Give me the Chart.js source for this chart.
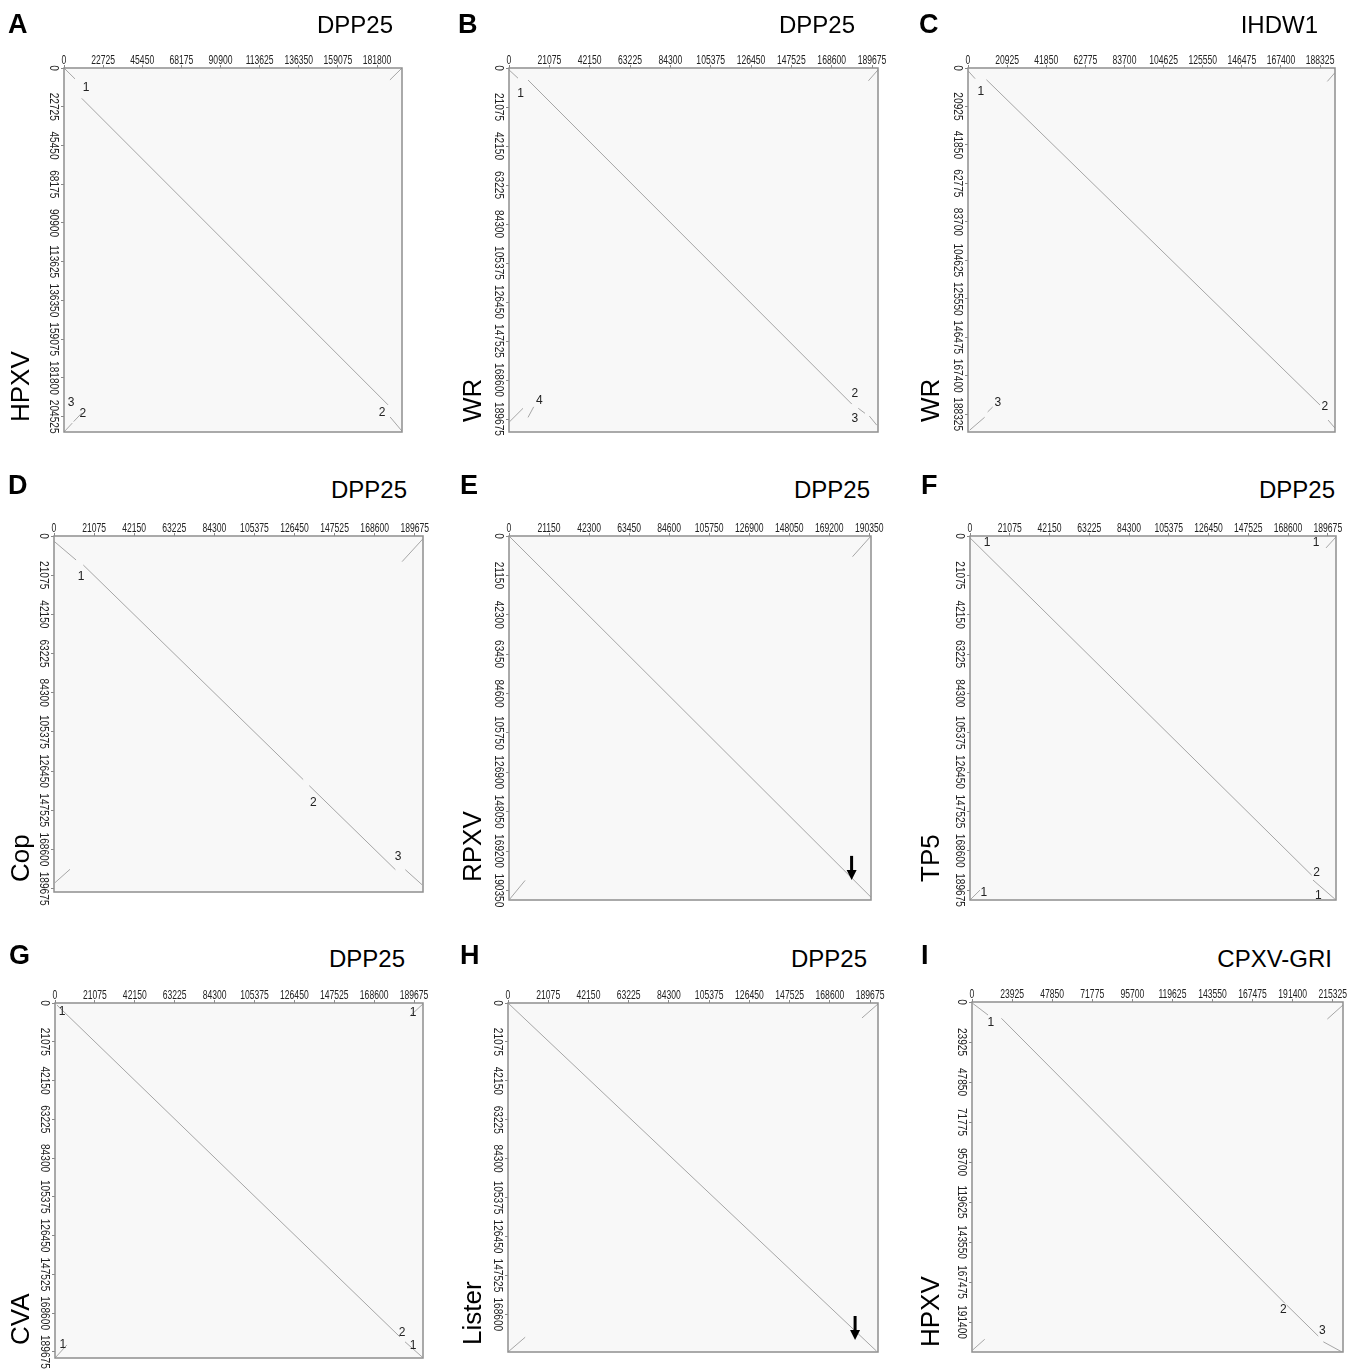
<!DOCTYPE html>
<html lang="en">
<head>
  <meta charset="UTF-8">
  <title>Dot plots</title>
  <script src="https://cdn.jsdelivr.net/npm/chart.js"></script>
  <style>
    body { margin: 0; background: #ffffff; font-family: "Liberation Sans", Arial, sans-serif; }
    #page { position: relative; width: 1361px; height: 1372px; overflow: hidden; background: #fff; }
    #page canvas { position: absolute; }
    .letter { position: absolute; font-weight: bold; font-size: 27px; line-height: 27px; color: #000; }
    .title { position: absolute; font-size: 24px; line-height: 24px; color: #000; text-align: right; white-space: nowrap; }
    .ylab { position: absolute; font-size: 26px; line-height: 26px; color: #000; white-space: nowrap;
            transform-origin: 0 0; transform: rotate(-90deg); }
  </style>
</head>
<body>
<div id="page"></div>
<script>
  // ---- tick labels ----
  const ticks22725 = [0, 22725, 45450, 68175, 90900, 113625, 136350, 159075, 181800];
  const ticks22725y = [0, 22725, 45450, 68175, 90900, 113625, 136350, 159075, 181800, 204525];
  const ticks21075 = [0, 21075, 42150, 63225, 84300, 105375, 126450, 147525, 168600, 189675];
  const ticks21075short = [0, 21075, 42150, 63225, 84300, 105375, 126450, 147525, 168600];
  const ticks20925 = [0, 20925, 41850, 62775, 83700, 104625, 125550, 146475, 167400, 188325];
  const ticks21150 = [0, 21150, 42300, 63450, 84600, 105750, 126900, 148050, 169200, 190350];
  const ticks23925 = [0, 23925, 47850, 71775, 95700, 119625, 143550, 167475, 191400, 215325];
  const ticks23925short = [0, 23925, 47850, 71775, 95700, 119625, 143550, 167475, 191400];

  // ---- panel names ----
  const panelLetters = ['A', 'B', 'C', 'D', 'E', 'F', 'G', 'H', 'I'];
  const xGenomes = ['DPP25', 'DPP25', 'IHDW1', 'DPP25', 'DPP25', 'DPP25', 'DPP25', 'DPP25', 'CPXV-GRI'];
  const yGenomes = ['HPXV', 'WR', 'WR', 'Cop', 'RPXV', 'TP5', 'CVA', 'Lister', 'HPXV'];

  // ---- axis lengths (bp) ----
  const xLengths = [196300, 192800, 196300, 194000, 191250, 194000, 194400, 193800, 221450];
  const yLengths = [213500, 196700, 198000, 191500, 195500, 195000, 193000, 189000, 209300];

  // ---- match segments [x1, y1, x2, y2] ----
  const segA = [[0, 0, 6400, 6400], [10300, 17800, 188200, 197600], [189400, 204700, 196300, 213000],
                [196300, 0, 189300, 7000], [0, 213500, 4800, 208300], [5600, 207400, 10300, 202400]];
  const segB = [[0, 1000, 4700, 5500], [9940, 6490, 179100, 181600], [182500, 183900, 186000, 186600],
                [188300, 188100, 192150, 193000], [192800, 1000, 187800, 6900],
                [260, 191200, 7320, 183900], [9940, 188800, 12900, 183100]];
  const segC = [[0, 1500, 3800, 5800], [9850, 6370, 188300, 183350], [192600, 191500, 196300, 195900],
                [196300, 2500, 192200, 7300], [900, 197000, 8900, 190000], [10500, 187100, 13200, 184400]];
  const segD = [[200, 3000, 11600, 12900], [15400, 15600, 131000, 131000], [134200, 134300, 179500, 179500],
                [184700, 179500, 193500, 187600], [194000, 1500, 183000, 13800], [500, 186500, 8400, 179300]];
  const segE = [[0, 0, 191250, 194000], [191250, 0, 181500, 11100], [0, 195500, 8500, 185000]];
  const segF = [[0, 1000, 181100, 181700], [181800, 184300, 193400, 194500],
                [194000, 500, 188700, 6400], [0, 195000, 5300, 189700]];
  const segG = [[1000, 1100, 182200, 181500], [184900, 184200, 193900, 192400],
                [194400, 500, 187500, 7100], [0, 193000, 6300, 185900]];
  const segH = [[0, 0, 193000, 188500], [193800, 500, 185400, 8100], [0, 189000, 9000, 181000]];
  const segI = [[400, 800, 9560, 7780], [17560, 9750, 186800, 180200], [187800, 181200, 206700, 199800],
                [209700, 203200, 220700, 209200], [221450, 1800, 212100, 10200], [400, 208100, 7600, 201700]];

  // ---- region numbers [x, y, text] ----
  const numA = [[12800, 11300, '1'], [184700, 202300, '2'], [4100, 196100, '3'], [10900, 202500, '2']];
  const numB = [[6100, 14000, '1'], [180700, 176200, '2'], [180700, 189700, '3'], [15800, 180000, '4']];
  const numC = [[6800, 12900, '1'], [190800, 184400, '2'], [15900, 182300, '3']];
  const numD = [[14200, 22000, '1'], [136300, 143500, '2'], [180900, 172600, '3']];
  const numE = [];
  const numF = [[9000, 3750, '1'], [183400, 3750, '1'], [7400, 191300, '1'], [184600, 192900, '1'], [183700, 180400, '2']];
  const numG = [[3700, 4900, '1'], [189100, 5400, '1'], [4200, 185900, '1'], [189100, 186400, '1'], [183300, 179300, '2']];
  const numH = [];
  const numI = [[11200, 12600, '1'], [185800, 184200, '2'], [209100, 196800, '3']];

  // ---- arrows (tip position) ----
  const arrowE = [[181000, 184700]];
  const arrowH = [[181800, 182500]];

  const xTickSets = [ticks22725, ticks21075, ticks20925, ticks21075, ticks21150, ticks21075, ticks21075, ticks21075, ticks23925];
  const yTickSets = [ticks22725y, ticks21075, ticks20925, ticks21075, ticks21150, ticks21075, ticks21075, ticks21075short, ticks23925short];
  const segSets = [segA, segB, segC, segD, segE, segF, segG, segH, segI];
  const numSets = [numA, numB, numC, numD, numE, numF, numG, numH, numI];
  const arrowSets = [[], [], [], [], arrowE, [], [], arrowH, []];

  // ---- layout (pixels) ----
  const boxes = [
    { L: 64, T: 68, R: 402, B: 432 }, { L: 509, T: 68, R: 878, B: 432 }, { L: 968, T: 68, R: 1335, B: 432 },
    { L: 54, T: 536, R: 423, B: 892 }, { L: 509, T: 536, R: 871, B: 900 }, { L: 970, T: 536, R: 1336, B: 900 },
    { L: 55, T: 1003, R: 423, B: 1358 }, { L: 508, T: 1003, R: 878, B: 1352 }, { L: 972, T: 1002, R: 1343, B: 1352 }
  ];
  const letterPos = [[8, 34], [458, 34], [919, 34], [8, 495], [460, 495], [921, 495], [9, 965], [460, 965], [921, 965]];
  const titlePos = [[393, 33], [855, 33], [1318, 33], [407, 498], [870, 498], [1335, 498], [405, 967], [867, 967], [1332, 967]];
  const ylabPos = [[7, 422], [459, 422], [917, 422], [7, 882], [459, 882], [917, 882], [7, 1345], [459, 1345], [917, 1347]];

  const PADL = 40, PADT = 30, PADR = 18, PADB = 18;
  const TICK_FONT = '13px "Liberation Sans", Arial, sans-serif';
  const page = document.getElementById('page');

  function addText(cls, text, style) {
    const d = document.createElement('div');
    d.className = cls;
    d.textContent = text;
    Object.assign(d.style, style);
    page.appendChild(d);
  }

  function makePanel(i) {
    const b = boxes[i];
    const xTicks = xTickSets[i], yTicks = yTickSets[i];
    const canvas = document.createElement('canvas');
    canvas.width = b.R - b.L + PADL + PADR;
    canvas.height = b.B - b.T + PADT + PADB;
    canvas.style.left = (b.L - PADL) + 'px';
    canvas.style.top = (b.T - PADT) + 'px';
    page.appendChild(canvas);

    const panelPlugin = {
      id: 'panel' + i,
      beforeDraw(chart) {
        const a = chart.chartArea, ctx = chart.ctx;
        ctx.save();
        ctx.fillStyle = '#f8f8f8';
        ctx.fillRect(a.left, a.top, a.right - a.left, a.bottom - a.top);
        ctx.restore();
      },
      afterDraw(chart) {
        const a = chart.chartArea, ctx = chart.ctx;
        const xs = chart.scales.x, ys = chart.scales.y;
        ctx.save();
        ctx.strokeStyle = '#8f8f8f';
        ctx.lineWidth = 1.5;
        ctx.strokeRect(a.left, a.top, a.right - a.left, a.bottom - a.top);

        // tick labels: narrow digits, drawn at the scales' tick pixels
        ctx.fillStyle = '#222';
        ctx.font = TICK_FONT;
        ctx.textAlign = 'center';
        xs.ticks.forEach(t => {
          const px = xs.getPixelForValue(t.value);
          ctx.save();
          ctx.translate(px, a.top - 4);
          ctx.scale(0.66, 1);
          ctx.textBaseline = 'alphabetic';
          ctx.fillText(String(t.value), 0, 0);
          ctx.restore();
        });
        ys.ticks.forEach(t => {
          const py = ys.getPixelForValue(t.value);
          ctx.save();
          ctx.translate(a.left, py);
          ctx.rotate(Math.PI / 2);
          ctx.scale(0.78, 1);
          ctx.textBaseline = 'alphabetic';
          ctx.fillText(String(t.value), 0, 14);
          ctx.restore();
        });

        // region numbers
        ctx.font = '12px "Liberation Sans", Arial, sans-serif';
        ctx.fillStyle = '#222';
        ctx.textBaseline = 'middle';
        numSets[i].forEach(n => {
          ctx.fillText(n[2], xs.getPixelForValue(n[0]), ys.getPixelForValue(n[1]));
        });

        // arrows
        ctx.fillStyle = '#000';
        arrowSets[i].forEach(ar => {
          const px = xs.getPixelForValue(ar[0]), py = ys.getPixelForValue(ar[1]);
          ctx.fillRect(px - 1.5, py - 24, 3, 16);
          ctx.beginPath();
          ctx.moveTo(px - 5, py - 10);
          ctx.lineTo(px + 5, py - 10);
          ctx.lineTo(px, py);
          ctx.closePath();
          ctx.fill();
        });
        ctx.restore();
      }
    };

    new Chart(canvas, {
      type: 'scatter',
      data: {
        datasets: segSets[i].map(s => ({
          data: [{ x: s[0], y: s[1] }, { x: s[2], y: s[3] }],
          showLine: true,
          borderColor: '#a6a6a6',
          borderWidth: 1,
          pointRadius: 0
        }))
      },
      options: {
        responsive: false,
        animation: false,
        events: [],
        layout: { padding: { left: 0, top: 0, right: PADR, bottom: PADB } },
        plugins: { legend: { display: false }, tooltip: { enabled: false } },
        scales: {
          x: {
            type: 'linear', position: 'top', min: 0, max: xLengths[i],
            afterBuildTicks: s => { s.ticks = xTicks.map(v => ({ value: v })); },
            afterFit: s => { s.height = PADT; },
            ticks: { display: false },
            grid: { drawOnChartArea: false, drawTicks: true, tickLength: 3, color: '#888' },
            border: { display: false }
          },
          y: {
            type: 'linear', reverse: true, min: 0, max: yLengths[i],
            afterBuildTicks: s => { s.ticks = yTicks.map(v => ({ value: v })); },
            afterFit: s => { s.width = PADL; },
            ticks: { display: false },
            grid: { drawOnChartArea: false, drawTicks: true, tickLength: 3, color: '#888' },
            border: { display: false }
          }
        }
      },
      plugins: [panelPlugin]
    });

    addText('letter', panelLetters[i], { left: letterPos[i][0] + 'px', top: (letterPos[i][1] - 23) + 'px' });
    addText('title', xGenomes[i], { right: (1361 - titlePos[i][0]) + 'px', top: (titlePos[i][1] - 20) + 'px' });
    addText('ylab', yGenomes[i], { left: ylabPos[i][0] + 'px', top: ylabPos[i][1] + 'px' });
  }

  for (let i = 0; i < 9; i++) makePanel(i);
</script>
</body>
</html>
